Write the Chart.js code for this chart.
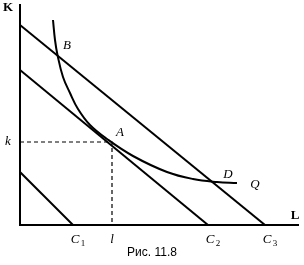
<!DOCTYPE html>
<html>
<head>
<meta charset="utf-8">
<script src="https://cdn.jsdelivr.net/npm/chart.js@4/dist/chart.umd.min.js"></script>
<style>
  html, body { margin: 0; padding: 0; background: #fff; }
  #wrap { width: 304px; height: 265px; position: relative; }
</style>
</head>
<body>
<div id="wrap"><canvas id="chart" width="304" height="265"></canvas></div>
<script>
// Isokosten-Linien C1, C2, C3 (Achsenabschnitte L / K)
const costNames = ["C1", "C2", "C3"];
const costIntK = [53, 155, 200];
const costIntL = [53, 188, 245];

// Isoquante Q (L, K)
const quantL = [33, 35, 37.5, 43, 50, 58, 70, 87, 113, 147, 173, 197, 217];
const quantK = [205, 185, 170, 148, 132, 116, 100, 86, 69, 53, 46, 43, 42];

// Punkt A (optimale Kombination l, k)
const pointA = { l: 92, k: 83 };

// Beschriftungen
const labels = [
  { text: "B", l: 47, k: 179, font: "italic 13px 'Liberation Serif'" },
  { text: "A", l: 100, k: 92, font: "italic 13px 'Liberation Serif'" },
  { text: "D", l: 208, k: 50, font: "italic 13px 'Liberation Serif'" },
  { text: "Q", l: 235, k: 40, font: "italic 13px 'Liberation Serif'" },
  { text: "k", l: -12, k: 83, font: "italic 13px 'Liberation Serif'" },
  { text: "l", l: 92, k: -15, font: "italic 13px 'Liberation Serif'" },
  { text: "K", l: -12, k: 217, font: "bold 13px 'Liberation Serif'" },
  { text: "L", l: 275, k: 9, font: "bold 13px 'Liberation Serif'" }
];
const costLabelK = -15;

const black = "#000";

// Datensätze aufbauen
var datasets = [];
for (let i = 0; i < costNames.length; i++) {
  datasets.push({
    label: costNames[i],
    data: [{ x: 0, y: costIntK[i] }, { x: costIntL[i], y: 0 }],
    borderColor: black, borderWidth: 2, pointRadius: 0, showLine: true
  });
}
datasets.push({
  label: "Q",
  data: quantL.map((v, i) => ({ x: v, y: quantK[i] })),
  borderColor: black, borderWidth: 2, pointRadius: 0, showLine: true,
  tension: 0.4
});
datasets.push({
  label: "A",
  data: [{ x: 0, y: pointA.k }, { x: pointA.l, y: pointA.k }, { x: pointA.l, y: 0 }],
  borderColor: black, borderWidth: 1.2, borderDash: [4, 3], pointRadius: 0, showLine: true
});

// Plugin für Textbeschriftungen
const textPlugin = {
  id: "texts",
  afterDraw(chart) {
    const ctx = chart.ctx;
    const xs = chart.scales.x, ys = chart.scales.y;
    ctx.save();
    ctx.fillStyle = black;
    ctx.textAlign = "center";
    ctx.textBaseline = "middle";
    for (let t of labels) {
      ctx.font = t.font;
      ctx.fillText(t.text, xs.getPixelForValue(t.l), ys.getPixelForValue(t.k));
    }
    // C mit Index
    for (let i = 0; i < costNames.length; i++) {
      let px = xs.getPixelForValue(costIntL[i]) + 2;
      let py = ys.getPixelForValue(costLabelK);
      ctx.font = "italic 13px 'Liberation Serif'";
      ctx.fillText("C", px, py);
      ctx.font = "9px 'Liberation Serif'";
      ctx.fillText(costNames[i].slice(1), px + 8, py + 4);
    }
    ctx.font = "12px 'Liberation Sans'";
    ctx.fillText("Рис. 11.8", 152, 253);
    ctx.restore();
  }
};

var ctx = document.getElementById("chart").getContext("2d");
new Chart(ctx, {
  type: "scatter",
  data: { datasets: datasets },
  options: {
    responsive: false,
    animation: false,
    layout: { padding: { left: 12, top: 5, right: 6, bottom: 32 } },
    plugins: { legend: { display: false }, tooltip: { enabled: false } },
    scales: {
      x: {
        min: 0, max: 278,
        ticks: { display: false },
        grid: { display: false },
        border: { display: true, color: black, width: 2 }
      },
      y: {
        min: 0, max: 220,
        ticks: { display: false },
        grid: { display: false },
        border: { display: true, color: black, width: 2 }
      }
    }
  },
  plugins: [textPlugin]
});
</script>
</body>
</html>
